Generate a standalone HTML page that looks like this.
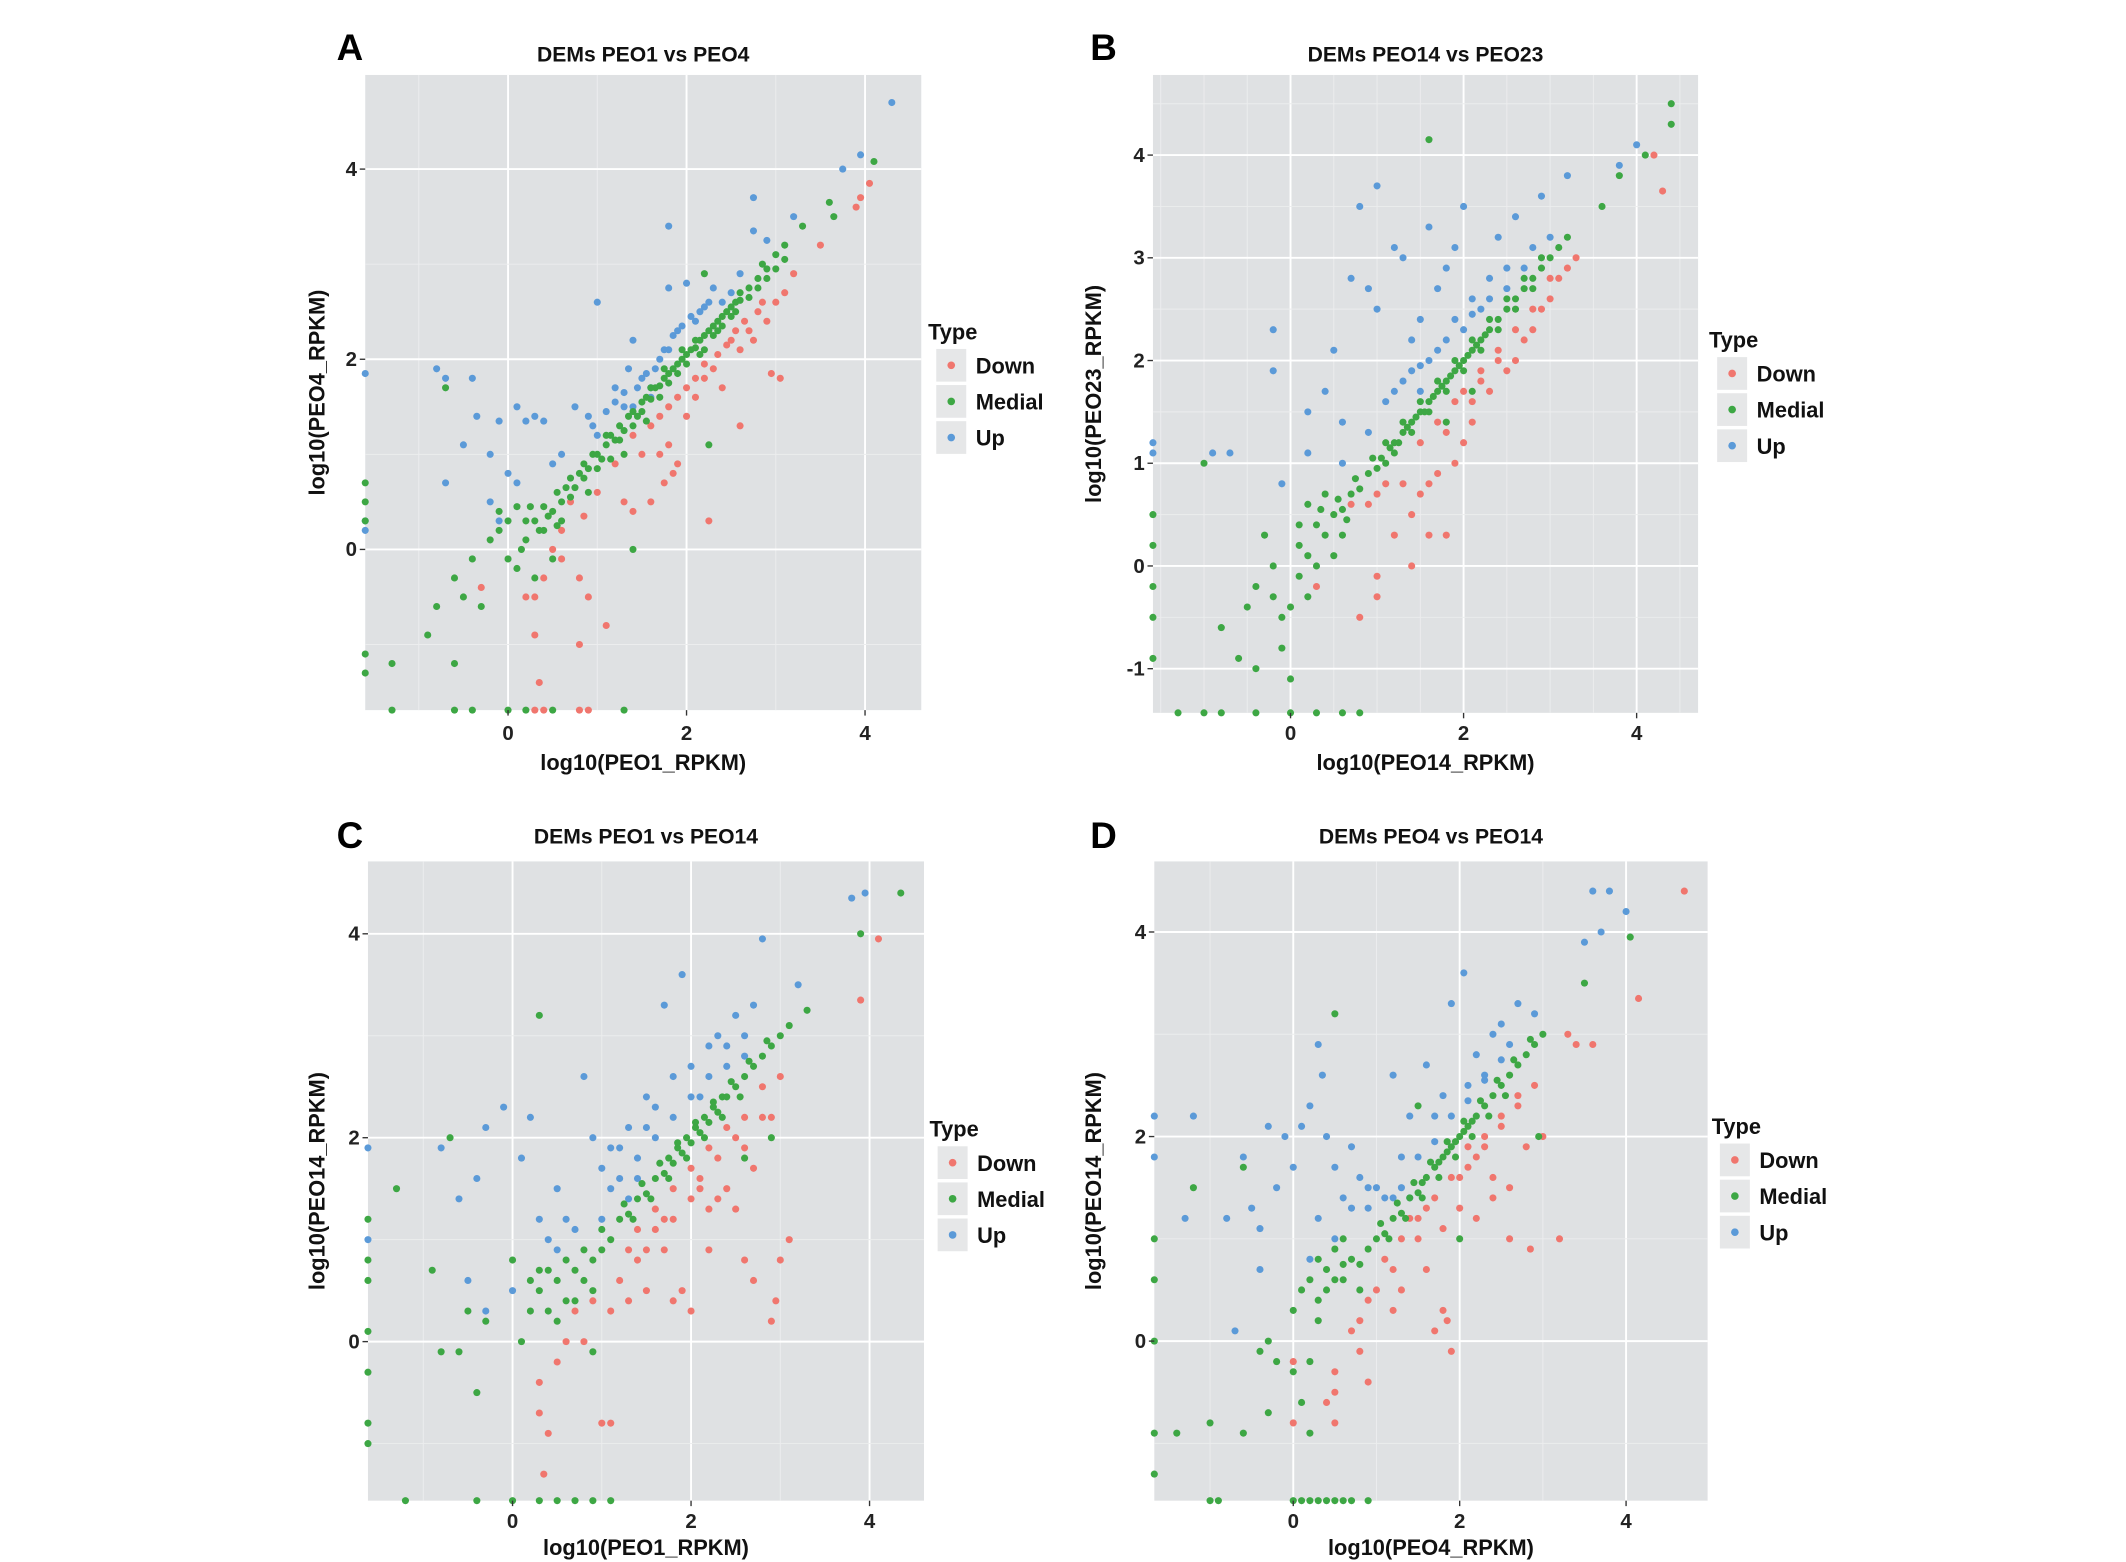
<!DOCTYPE html>
<html><head><meta charset="utf-8"><style>
html,body{margin:0;padding:0;background:#fff;}
svg{display:block;}
text{font-family:"Liberation Sans",Arial,sans-serif;font-weight:bold;}
</style></head><body>
<svg id="fig" width="2126" height="1562" viewBox="0 0 1560 1146" preserveAspectRatio="none" xmlns="http://www.w3.org/2000/svg"></svg>
<script>
// ---------- data (log10 RPKM pairs) ----------
const A_medial=[[0.3,0.3],[0.4,0.45],[0.5,0.4],[0.55,0.6],[0.6,0.5],[0.7,0.75],[0.75,0.65],[0.8,0.8],[0.85,0.9],[0.9,0.85],[1.0,1.0],[1.05,0.95],[1.1,1.1],[1.15,1.2],[1.2,1.15],[1.25,1.3],[1.3,1.25],[1.35,1.4],[1.4,1.45],[1.45,1.4],[1.5,1.55],[1.55,1.6],[1.6,1.58],[1.65,1.7],[1.7,1.72],[1.75,1.8],[1.8,1.85],[1.85,1.9],[1.9,1.95],[1.95,2.0],[2.0,2.05],[2.05,2.1],[2.1,2.12],[2.15,2.2],[2.2,2.25],[2.25,2.3],[2.3,2.35],[2.35,2.4],[2.4,2.45],[2.45,2.5],[2.5,2.55],[2.55,2.6],[2.6,2.62],[2.7,2.75],[2.8,2.85],[2.9,2.95],[3.0,3.1],[3.1,3.2],[3.3,3.4],[3.6,3.65],[3.65,3.5],[4.1,4.08],[2.25,1.1],[-0.8,-0.6],[-0.6,-0.3],[-0.5,-0.5],[-0.4,-0.1],[-0.3,-0.6],[-0.2,0.1],[0.0,-0.1],[0.1,-0.2],[0.2,0.3],[-0.1,0.4],[0.3,-0.3],[0.5,-0.1],[0.4,0.2],[0.0,0.3],[0.2,0.1],[0.6,0.3],[-0.9,-0.9],[-1.3,-1.2],[-0.6,-1.2],[-0.7,1.7],[-1.6,0.7],[-1.6,0.5],[-1.6,0.3],[-1.6,-1.1],[-1.6,-1.3],[-1.3,-1.69],[-0.6,-1.69],[-0.4,-1.69],[0.0,-1.69],[0.2,-1.69],[0.5,-1.69],[1.3,-1.69],[1.4,0.0],[2.2,2.9],[1.3,1.0],[0.9,0.6],
 [0.35,0.2],[0.45,0.35],[0.65,0.65],[0.85,0.75],[0.95,1.0],[1.1,1.2],[1.25,1.15],[1.4,1.3],[1.5,1.45],[1.6,1.7],[1.7,1.6],[1.8,1.75],[1.9,1.85],[2.0,1.95],[2.1,2.2],[2.2,2.1],[2.3,2.25],[2.4,2.35],[2.5,2.45],[2.6,2.7],[2.7,2.65],[2.8,2.75],[2.9,2.85],[3.0,2.95],[2.85,3.0],[3.1,3.05],[0.1,0.45],[-0.1,0.2],[0.15,0.0],[0.55,0.25],[0.25,0.45],[0.7,0.55],[1.0,0.85],[1.15,0.95],[1.55,1.35],[1.75,1.9],[1.95,2.1],[2.15,2.05],[2.35,2.3],[2.55,2.5]];
const A_down=[[0.5,0.0],[0.6,-0.1],[0.4,-0.3],[0.3,-0.5],[0.2,-0.5],[0.3,-0.9],[0.35,-1.4],[0.8,-0.3],[0.9,-0.5],[1.1,-0.8],[0.8,-1.0],[-0.3,-0.4],[0.7,0.5],[1.0,0.6],[1.2,0.9],[1.4,0.4],[1.4,1.2],[1.6,0.5],[1.7,1.0],[1.8,1.1],[1.9,0.9],[2.0,1.4],[2.1,1.6],[2.2,1.8],[2.25,0.3],[2.3,1.9],[2.4,1.7],[2.5,2.2],[2.6,2.1],[2.7,2.3],[2.8,2.5],[2.9,2.4],[3.0,2.6],[3.1,2.7],[2.95,1.85],[3.05,1.8],[2.6,1.3],[3.2,2.9],[3.5,3.2],[3.9,3.6],[3.95,3.7],[4.05,3.85],[1.3,0.5],[1.6,1.3],[1.5,1.0],[0.6,0.2],[0.85,0.35],[0.3,-1.69],[0.4,-1.69],[0.8,-1.69],[0.9,-1.69],
 [1.9,1.6],[2.0,1.7],[2.1,1.8],[2.2,1.95],[2.35,2.05],[2.45,2.15],[2.55,2.3],[2.65,2.4],[2.75,2.2],[2.85,2.6],[1.8,1.5],[1.7,1.4],[1.85,0.8],[1.75,0.7]];
const A_up=[[-1.6,1.85],[-1.6,0.3],[-1.6,0.2],[-0.8,1.9],[-0.7,1.8],[-0.4,1.8],[-0.35,1.4],[-0.5,1.1],[-0.2,1.0],[-0.1,1.35],[0.1,1.5],[0.2,1.35],[0.3,1.4],[0.4,1.35],[0.0,0.8],[0.1,0.7],[-0.7,0.7],[-0.2,0.5],[-0.1,0.3],[0.6,1.0],[0.75,1.5],[0.9,1.4],[0.95,1.3],[1.0,2.6],[1.0,1.2],[1.2,1.7],[1.3,1.65],[1.35,1.9],[1.4,2.2],[1.5,1.8],[1.6,1.7],[1.7,2.0],[1.8,2.1],[1.8,2.75],[1.8,3.4],[1.9,2.3],[2.0,2.8],[2.1,2.4],[2.2,2.55],[2.3,2.75],[2.4,2.6],[2.5,2.7],[2.75,3.7],[2.75,3.35],[2.9,3.25],[3.2,3.5],[3.75,4.0],[3.95,4.15],[4.3,4.7],[0.5,0.9],[1.6,1.6],[1.4,1.5],[2.6,2.9],
 [1.3,1.5],[1.45,1.7],[1.55,1.85],[1.65,1.9],[1.75,2.1],[1.85,2.25],[1.95,2.35],[2.05,2.45],[2.15,2.5],[2.25,2.6],[1.2,1.55],[1.1,1.45]];

const B_medial=[[0.5,0.5],[0.6,0.55],[0.7,0.7],[0.8,0.75],[0.9,0.9],[1.0,0.95],[1.05,1.05],[1.1,1.0],[1.15,1.15],[1.2,1.2],[1.25,1.2],[1.3,1.3],[1.35,1.35],[1.4,1.4],[1.45,1.45],[1.5,1.5],[1.55,1.5],[1.6,1.6],[1.65,1.65],[1.7,1.7],[1.75,1.75],[1.8,1.8],[1.85,1.85],[1.9,1.9],[1.95,1.95],[2.0,2.0],[2.05,2.05],[2.1,2.1],[2.15,2.15],[2.2,2.2],[2.25,2.25],[2.3,2.3],[2.4,2.4],[2.5,2.5],[2.6,2.6],[2.7,2.7],[2.8,2.8],[2.9,2.9],[3.0,3.0],[3.1,3.1],[3.2,3.2],[-0.3,0.3],[-0.4,-0.2],[-0.1,-0.5],[0.0,-1.1],[-0.1,-0.8],[0.2,-0.3],[0.3,0.0],[0.1,0.2],[0.2,0.6],[0.4,0.7],[-0.6,-0.9],[-0.8,-0.6],[-0.5,-0.4],[0.0,-0.4],[0.5,0.1],[-1.0,1.0],[1.6,4.15],[3.6,3.5],[4.4,4.5],[4.4,4.3],[4.1,4.0],[3.8,3.8],[-0.4,-1.0],[0.3,0.4],[0.6,0.3],[-0.2,0.0],[0.1,-0.1],[1.8,1.4],[2.1,1.7],[-1.59,0.5],[-1.59,0.2],[-1.59,-0.2],[-1.59,-0.5],[-1.59,-0.9],[-1.3,-1.43],[-1.0,-1.43],[-0.8,-1.43],[-0.4,-1.43],[0.0,-1.43],[0.3,-1.43],[0.6,-1.43],[0.8,-1.43],
 [0.55,0.65],[0.75,0.85],[0.95,1.05],[1.1,1.2],[1.3,1.4],[1.5,1.6],[1.7,1.8],[1.9,2.0],[2.1,2.2],[2.3,2.4],[2.5,2.6],[2.7,2.8],[2.9,3.0],[1.2,1.1],[1.4,1.3],[1.6,1.5],[1.8,1.7],[2.0,1.9],[2.2,2.1],[2.4,2.3],[2.6,2.5],[2.8,2.7],[0.4,0.3],[0.1,0.4],[-0.2,-0.3],[0.2,0.1],[0.35,0.55],[0.65,0.45]];
const B_down=[[0.3,-0.2],[0.8,-0.5],[1.0,-0.3],[1.0,-0.1],[1.4,0.0],[1.6,0.3],[1.8,0.3],[1.2,0.3],[1.4,0.5],[1.5,0.7],[1.7,0.9],[1.9,1.0],[1.8,1.3],[2.1,1.4],[2.3,1.7],[2.1,1.6],[2.5,1.9],[2.6,2.0],[2.7,2.2],[2.8,2.3],[2.9,2.5],[3.0,2.6],[3.2,2.9],[3.1,2.8],[2.2,1.8],[2.4,2.1],[1.0,0.7],[0.7,0.6],[4.2,4.0],[4.3,3.65],[1.6,0.8],[2.0,1.2],[1.3,0.8],[3.3,3.0],
 [1.5,1.2],[1.7,1.4],[1.9,1.6],[2.0,1.7],[2.2,1.9],[2.4,2.0],[2.6,2.3],[2.8,2.5],[3.0,2.8],[1.1,0.8],[0.9,0.6]];
const B_up=[[-1.59,1.2],[-1.59,1.1],[-0.9,1.1],[-0.7,1.1],[-0.2,2.3],[-0.2,1.9],[0.2,1.5],[0.4,1.7],[0.6,1.4],[0.5,2.1],[0.7,2.8],[0.8,3.5],[0.9,2.7],[1.0,2.5],[1.0,3.7],[1.2,3.1],[1.3,3.0],[1.4,2.2],[1.5,2.4],[1.6,3.3],[1.7,2.7],[1.8,2.9],[1.9,3.1],[2.0,3.5],[2.1,2.6],[2.3,2.8],[2.4,3.2],[2.6,3.4],[2.9,3.6],[3.2,3.8],[3.8,3.9],[4.0,4.1],[-0.1,0.8],[0.2,1.1],[0.6,1.0],[1.2,1.7],[1.4,1.9],[1.5,1.7],[1.6,2.0],[1.8,2.2],[2.0,2.3],[2.2,2.5],[2.5,2.7],[2.7,2.9],
 [1.3,1.8],[1.5,1.95],[1.7,2.1],[1.9,2.4],[2.1,2.45],[2.3,2.6],[2.5,2.9],[2.8,3.1],[3.0,3.2],[1.1,1.6],[0.9,1.3]];

const C_medial=[[1.2,1.2],[1.3,1.25],[1.4,1.4],[1.5,1.45],[1.6,1.6],[1.7,1.65],[1.75,1.8],[1.8,1.75],[1.85,1.9],[1.9,1.85],[1.95,2.0],[2.0,1.95],[2.05,2.1],[2.1,2.05],[2.15,2.2],[2.2,2.15],[2.25,2.3],[2.3,2.25],[2.35,2.4],[2.4,2.4],[2.5,2.5],[2.6,2.6],[2.7,2.7],[2.8,2.8],[2.9,2.9],[3.0,3.0],[3.1,3.1],[3.3,3.25],[0.0,0.8],[0.2,0.6],[0.3,0.5],[0.4,0.7],[0.6,0.8],[0.7,0.4],[0.8,0.6],[0.9,0.5],[1.0,0.9],[0.5,0.2],[0.1,0.0],[-0.3,0.2],[-0.5,0.3],[-0.8,-0.1],[-0.4,-0.5],[-0.6,-0.1],[-0.9,0.7],[-0.7,2.0],[-1.3,1.5],[0.3,3.2],[0.4,0.3],[0.9,-0.1],[3.9,4.0],[4.35,4.4],[2.9,2.0],[2.6,1.8],[1.1,1.0],[0.6,0.4],[0.2,0.3],[-1.62,1.2],[-1.62,0.8],[-1.62,0.6],[-1.62,0.1],[-1.62,-0.3],[-1.62,-0.8],[-1.62,-1.0],[-1.2,-1.56],[-0.4,-1.56],[0.0,-1.56],[0.3,-1.56],[0.5,-1.56],[0.7,-1.56],[0.9,-1.56],[1.1,-1.56],
 [1.25,1.35],[1.45,1.55],[1.65,1.75],[1.85,1.95],[2.05,2.15],[2.25,2.35],[2.45,2.55],[2.65,2.75],[2.85,2.95],[1.35,1.2],[1.55,1.4],[1.75,1.6],[1.95,1.8],[2.15,2.0],[2.35,2.2],[2.55,2.4],[0.5,0.6],[0.7,0.7],[0.9,0.8],[1.0,1.1],[0.3,0.7],[0.8,0.9]];
const C_down=[[0.3,-0.4],[0.3,-0.7],[0.4,-0.9],[0.35,-1.3],[0.5,-0.2],[0.6,0.0],[0.7,0.3],[0.8,0.0],[1.0,-0.8],[1.1,-0.8],[1.1,0.3],[1.2,0.6],[1.3,0.4],[1.4,0.8],[1.5,0.9],[1.6,1.1],[1.7,0.9],[1.8,1.2],[1.9,0.5],[2.0,0.3],[2.0,1.4],[2.1,1.6],[2.2,1.3],[2.3,1.8],[2.4,1.5],[2.5,2.0],[2.6,2.2],[2.7,1.7],[2.8,2.5],[2.9,2.2],[3.0,2.6],[2.6,0.8],[2.7,0.6],[2.9,0.2],[2.95,0.4],[3.1,1.0],[3.0,0.8],[3.9,3.35],[4.1,3.95],[1.5,0.5],[1.8,0.4],[2.2,0.9],[0.9,0.4],[2.5,1.3],
 [1.4,1.1],[1.6,1.3],[1.8,1.5],[2.0,1.7],[2.2,1.9],[2.4,2.1],[2.6,1.9],[2.8,2.2],[1.3,0.9],[1.7,1.2],[2.1,1.5],[2.3,1.4]];
const C_up=[[-1.62,1.9],[-1.62,1.0],[-0.8,1.9],[-0.6,1.4],[-0.4,1.6],[-0.3,2.1],[-0.1,2.3],[0.1,1.8],[0.2,2.2],[0.3,1.2],[0.4,1.0],[0.5,1.5],[0.6,1.2],[0.8,2.6],[0.9,2.0],[1.0,1.7],[1.1,1.5],[1.2,1.9],[1.3,2.1],[1.4,1.6],[1.5,2.4],[1.6,2.3],[1.7,3.3],[1.8,2.6],[1.9,3.6],[2.0,2.7],[2.1,2.4],[2.2,2.9],[2.3,3.0],[2.4,2.7],[2.5,3.2],[2.6,3.0],[2.7,3.3],[2.8,3.95],[3.2,3.5],[3.8,4.35],[3.95,4.4],[-0.3,0.3],[-0.5,0.6],[0.0,0.5],[1.0,1.2],[1.3,1.4],
 [1.2,1.6],[1.4,1.8],[1.6,2.0],[1.8,2.2],[2.0,2.4],[2.2,2.6],[2.4,2.9],[2.6,2.8],[1.1,1.9],[1.5,2.1],[0.7,1.1],[0.5,0.9]];

const D_medial=[[1.0,1.0],[1.1,1.05],[1.2,1.2],[1.3,1.25],[1.4,1.4],[1.5,1.45],[1.55,1.55],[1.6,1.6],[1.7,1.7],[1.75,1.75],[1.8,1.8],[1.85,1.85],[1.9,1.9],[1.95,1.95],[2.0,2.0],[2.05,2.05],[2.1,2.1],[2.15,2.15],[2.2,2.2],[2.3,2.3],[2.4,2.4],[2.5,2.5],[2.6,2.6],[2.7,2.7],[2.8,2.8],[2.9,2.9],[3.0,3.0],[0.0,0.3],[0.1,0.5],[0.2,0.6],[0.3,0.8],[0.4,0.7],[0.5,0.9],[0.6,0.6],[0.7,0.8],[0.8,0.5],[0.9,0.9],[-0.3,0.0],[-0.2,-0.2],[-0.4,-0.1],[0.0,-0.3],[0.2,-0.2],[0.1,-0.6],[0.2,-0.9],[-0.3,-0.7],[-0.6,-0.9],[-1.0,-0.8],[-1.4,-0.9],[-1.2,1.5],[-0.6,1.7],[0.5,3.2],[3.5,3.5],[4.05,3.95],[2.95,2.0],[2.0,1.0],[1.5,2.3],[0.3,0.4],[0.6,1.0],[-1.67,1.0],[-1.67,0.6],[-1.67,0.0],[-1.67,-0.9],[-1.67,-1.3],[-1.0,-1.56],[-0.9,-1.56],[0.0,-1.56],[0.1,-1.56],[0.2,-1.56],[0.3,-1.56],[0.4,-1.56],[0.5,-1.56],[0.6,-1.56],[0.7,-1.56],[0.9,-1.56],
 [1.05,1.15],[1.25,1.35],[1.45,1.55],[1.65,1.75],[1.85,1.95],[2.05,2.15],[2.25,2.35],[2.45,2.55],[2.65,2.75],[2.85,2.95],[1.15,1.0],[1.35,1.2],[1.55,1.4],[1.75,1.6],[1.95,1.8],[2.15,2.0],[2.35,2.2],[2.55,2.4],[0.4,0.5],[0.6,0.75],[0.8,0.75],[0.5,0.6],[0.3,0.2]];
const D_down=[[0.0,-0.2],[0.0,-0.8],[0.5,-0.5],[0.5,-0.3],[0.4,-0.6],[0.5,-0.8],[0.8,0.2],[0.8,-0.1],[0.9,0.4],[0.9,-0.4],[1.0,0.5],[1.1,0.8],[1.2,0.7],[1.3,0.5],[1.4,1.2],[1.5,1.0],[1.6,0.7],[1.7,0.1],[1.8,0.3],[1.9,-0.1],[1.85,0.2],[2.0,1.6],[2.1,1.9],[2.2,1.8],[2.3,2.0],[2.4,1.4],[2.5,2.1],[2.6,1.5],[2.7,2.4],[2.8,1.9],[2.85,0.9],[2.9,2.5],[3.0,2.0],[3.3,3.0],[3.4,2.9],[3.6,2.9],[4.15,3.35],[4.7,4.4],[2.2,1.2],[1.6,1.3],[2.6,1.0],[3.2,1.0],[1.2,0.3],[0.7,0.1],
 [1.7,1.4],[1.9,1.6],[2.1,1.7],[2.3,1.9],[2.5,2.2],[2.7,2.3],[1.5,1.2],[1.3,1.0],[2.0,1.3],[2.4,1.6],[1.8,1.1]];
const D_up=[[-1.67,2.2],[-1.67,1.8],[-1.2,2.2],[-1.3,1.2],[-0.8,1.2],[-0.6,1.8],[-0.5,1.3],[-0.4,1.1],[-0.3,2.1],[-0.1,2.0],[-0.2,1.5],[0.0,1.7],[0.1,2.1],[0.2,2.3],[0.3,2.9],[0.35,2.6],[0.4,2.0],[0.5,1.7],[0.6,1.4],[0.7,1.9],[0.8,1.6],[0.9,1.3],[1.0,1.5],[1.2,2.6],[1.3,1.8],[1.4,2.2],[1.6,2.7],[1.7,2.2],[1.8,2.4],[1.9,3.3],[2.05,3.6],[2.1,2.5],[2.2,2.8],[2.3,2.6],[2.4,3.0],[2.5,3.1],[2.7,3.3],[2.9,3.2],[3.5,3.9],[3.6,4.4],[3.8,4.4],[3.7,4.0],[4.0,4.2],[-0.7,0.1],[-0.4,0.7],[0.2,0.8],[0.3,1.2],[0.5,1.0],[1.4,1.4],[1.2,1.4],
 [1.1,1.4],[1.3,1.5],[1.5,1.8],[1.7,1.95],[1.9,2.2],[2.1,2.35],[2.3,2.55],[2.5,2.75],[2.6,2.9],[0.9,1.5],[0.7,1.3]];

const ticksXYA=[0,2,4];
const ticksYB=[-1,0,1,2,3,4];
const legendLabels=["Down","Medial","Up"];
const colors={Down:"#f0766e",Medial:"#3da744",Up:"#5b9ad8"};

// ---------- layout ----------
const panels=[
 {key:"a",letter:"A",title:"DEMs PEO1 vs PEO4",xlab:"log10(PEO1_RPKM)",ylab:"log10(PEO4_RPKM)",
  px0:268,px1:676,py0:55,py1:521,xmin:-1.6,xmax:4.63,ymin:-1.69,ymax:4.99,xt:ticksXYA,yt:ticksXYA,minorStep:2,
  down:A_down,medial:A_medial,up:A_up,lx:681,ly:244,ylabX:233,lettX:247,lettY:44,titleY:45,tickOff:22,xlabOff:44},
 {key:"b",letter:"B",title:"DEMs PEO14 vs PEO23",xlab:"log10(PEO14_RPKM)",ylab:"log10(PEO23_RPKM)",
  px0:846,px1:1246,py0:55,py1:523,xmin:-1.59,xmax:4.71,ymin:-1.43,ymax:4.78,xt:ticksXYA,yt:ticksYB,minorStep:1,
  down:B_down,medial:B_medial,up:B_up,lx:1254,ly:250,ylabX:803,lettX:800,lettY:44,titleY:45,tickOff:20,xlabOff:42},
 {key:"c",letter:"C",title:"DEMs PEO1 vs PEO14",xlab:"log10(PEO1_RPKM)",ylab:"log10(PEO14_RPKM)",
  px0:270,px1:678,py0:632,py1:1101,xmin:-1.62,xmax:4.61,ymin:-1.56,ymax:4.71,xt:ticksXYA,yt:ticksXYA,minorStep:2,
  down:C_down,medial:C_medial,up:C_up,lx:682,ly:829,ylabX:233,lettX:247,lettY:622,titleY:619,tickOff:20,xlabOff:40},
 {key:"d",letter:"D",title:"DEMs PEO4 vs PEO14",xlab:"log10(PEO4_RPKM)",ylab:"log10(PEO14_RPKM)",
  px0:847,px1:1253,py0:632,py1:1101,xmin:-1.67,xmax:4.98,ymin:-1.56,ymax:4.69,xt:ticksXYA,yt:ticksXYA,minorStep:2,
  down:D_down,medial:D_medial,up:D_up,lx:1256,ly:827,ylabX:803,lettX:800,lettY:622,titleY:619,tickOff:20,xlabOff:40}
];
const NS="http://www.w3.org/2000/svg";
const svg=document.getElementById("fig");
function mk(tag,attrs,parent){const e=document.createElementNS(NS,tag);for(const k in attrs)e.setAttribute(k,attrs[k]);(parent||svg).appendChild(e);return e;}

panels.forEach(p=>{
 const g=mk("g",{});
 
 
 const sx=v=>p.px0+(v-p.xmin)/(p.xmax-p.xmin)*(p.px1-p.px0);
 const sy=v=>p.py1-(v-p.ymin)/(p.ymax-p.ymin)*(p.py1-p.py0);
 const bg=mk("rect",{x:p.px0,y:p.py0,width:p.px1-p.px0,height:p.py1-p.py0,fill:"#dfe1e3"},g);
 
 
 const ms=p.minorStep/2;
 for(let v=Math.ceil(p.xmin/ms)*ms;v<=p.xmax;v+=ms){
  const isMajor=p.xt.some(t=>Math.abs(t-v)<1e-6);
  mk("line",{x1:sx(v),x2:sx(v),y1:p.py0,y2:p.py1,stroke:isMajor?"#ffffff":"#ecedee","stroke-width":isMajor?1.4:0.7},g);
 }
 for(let v=Math.ceil(p.ymin/ms)*ms;v<=p.ymax;v+=ms){
  const isMajor=p.yt.some(t=>Math.abs(t-v)<1e-6);
  mk("line",{y1:sy(v),y2:sy(v),x1:p.px0,x2:p.px1,stroke:isMajor?"#ffffff":"#ecedee","stroke-width":isMajor?1.4:0.7},g);
 }
 [["Down",p.down],["Up",p.up],["Medial",p.medial]].forEach(([name,arr])=>{
  const sg=mk("g",{fill:colors[name]},g);
  
  
  arr.forEach(d=>{
   const c=mk("circle",{cx:sx(d[0]),cy:sy(d[1]),r:2.6},sg);
   
   
  });
 });
 p.xt.forEach(t=>{
  mk("line",{x1:sx(t),x2:sx(t),y1:p.py1,y2:p.py1+4,stroke:"#333","stroke-width":1},g);
  const tx=mk("text",{x:sx(t),y:p.py1+p.tickOff,"text-anchor":"middle","font-size":15,fill:"#222"},g);
  tx.textContent=t;
  
  
 });
 p.yt.forEach(t=>{
  mk("line",{x1:p.px0-4,x2:p.px0,y1:sy(t),y2:sy(t),stroke:"#333","stroke-width":1},g);
  const tx=mk("text",{x:p.px0-6,y:sy(t)+5,"text-anchor":"end","font-size":15,fill:"#222"},g);
  tx.textContent=t;
  
  
 });
 const tt=mk("text",{x:(p.px0+p.px1)/2,y:p.titleY,"text-anchor":"middle","font-size":15.5,fill:"#111"},g);
 tt.textContent=p.title;
 
 
 const xl=mk("text",{x:(p.px0+p.px1)/2,y:p.py1+p.xlabOff,"text-anchor":"middle","font-size":16,fill:"#111"},g);
 xl.textContent=p.xlab;
 
 
 const cy=(p.py0+p.py1)/2;
 const yl=mk("text",{x:p.ylabX,y:cy,"text-anchor":"middle","font-size":16,fill:"#111",transform:`rotate(-90 ${p.ylabX} ${cy})`,dy:5},g);
 yl.textContent=p.ylab;
 
 
 const lt=mk("text",{x:p.lettX,y:p.lettY,"font-size":27,fill:"#000","font-family":"Liberation Serif, serif"},g);
 lt.textContent=p.letter;
 
 
 const lg=mk("g",{},g);
 
 
 const ty=mk("text",{x:p.lx,y:p.ly+5,"font-size":16,fill:"#111"},lg);
 ty.textContent="Type";
 
 
 legendLabels.forEach((lab,i)=>{
  const yy=p.ly+24+i*26.5;
  mk("rect",{x:p.lx+6,y:yy-12,width:22,height:24,fill:"#e6e7e8"},lg);
  mk("circle",{cx:p.lx+17,cy:yy,r:2.8,fill:colors[lab]},lg);
  const t=mk("text",{x:p.lx+35,y:yy+6,"font-size":16,fill:"#111"},lg);
  t.textContent=lab;
  
  
 });
});
</script>
</body></html>
